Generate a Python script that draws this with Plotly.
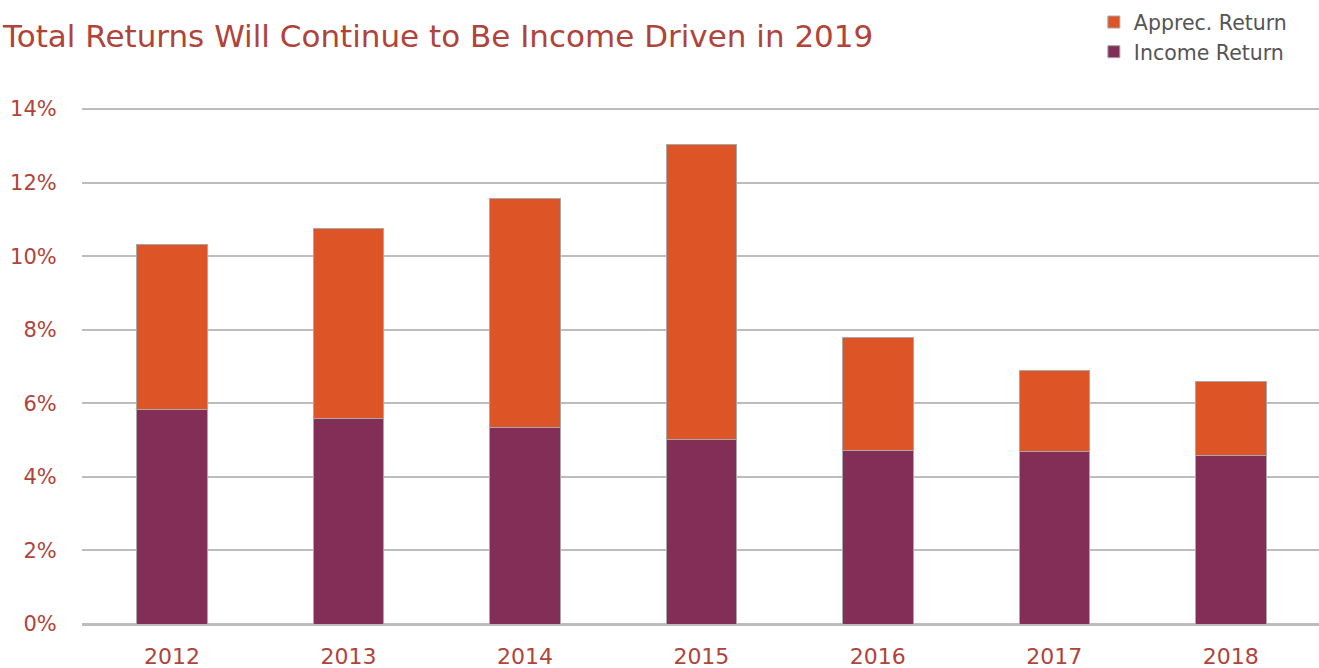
import plotly.graph_objects as go

years = ["2012", "2013", "2014", "2015", "2016", "2017", "2018"]
income_return = [5.82, 5.60, 5.35, 5.03, 4.73, 4.68, 4.57]
apprec_return = [4.51, 5.16, 6.23, 8.02, 3.07, 2.22, 2.03]
y_ticks = [0, 2, 4, 6, 8, 10, 12, 14]
y_tick_labels = [f"{v}%" for v in y_ticks]

FONT = "DejaVu Sans"
RED = "#B0433A"

fig = go.Figure()
fig.add_trace(go.Bar(x=years, y=income_return, name="Income Return",
                     marker=dict(color="#822E57", line=dict(color="#A8A8A8", width=1))))
fig.add_trace(go.Bar(x=years, y=apprec_return, name="Apprec. Return",
                     marker=dict(color="#DD5426", line=dict(color="#A8A8A8", width=1))))

fig.update_layout(
    barmode="stack",
    bargap=0.6,
    width=1319, height=668,
    margin=dict(l=82, r=0, t=108, b=44, autoexpand=False),
    paper_bgcolor="white", plot_bgcolor="white",
    font=dict(family=FONT),
    legend=dict(traceorder="reversed", x=0.818, xanchor="left", y=1.205, yanchor="top",
                font=dict(size=20.5, color="#555555", family=FONT),
                itemwidth=30, tracegroupgap=0, bgcolor="rgba(0,0,0,0)"),
    annotations=[dict(text="Total Returns Will Continue to Be Income Driven in 2019",
                      xref="paper", yref="paper", x=-82/1237, y=1.0 + 72/516,
                      xanchor="left", yanchor="middle", showarrow=False,
                      font=dict(size=31, color=RED, family=FONT))],
)
fig.update_xaxes(range=[-0.51, 6.5], showgrid=False, showline=False, zeroline=False,
                 automargin=False,
                 ticks="outside", ticklen=13, tickcolor="rgba(0,0,0,0)",
                 tickfont=dict(size=22, color=RED, family=FONT))
fig.update_yaxes(range=[0, 14.03], tickvals=y_ticks, ticktext=y_tick_labels,
                 automargin=False,
                 showgrid=True, gridcolor="#BDBDBD", gridwidth=2,
                 zeroline=True, zerolinecolor="#BDBDBD", zerolinewidth=3,
                 showline=False, ticks="outside", ticklen=20, tickcolor="rgba(0,0,0,0)",
                 tickfont=dict(size=21, color=RED, family=FONT))

fig.write_html("out.html")
